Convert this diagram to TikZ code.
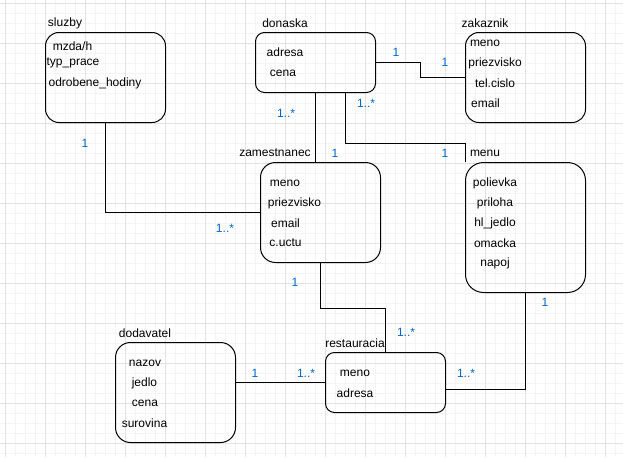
\documentclass[tikz,border=0pt]{standalone}
\usepackage{fontspec}
\setmainfont{Liberation Sans}
\usetikzlibrary{calc}
\definecolor{lblblue}{RGB}{0,102,204}
\definecolor{gridmajor}{RGB}{226,226,226}
\definecolor{gridminor}{RGB}{244,244,244}
\tikzset{every picture/.style={line width=0.75pt}}
\tikzset{
  entity/.style={draw, anchor=north west, inner sep=0pt, minimum width=90pt, rounded corners=#1},
  enttitle/.style={inner sep=0.75pt, font=\fontsize{9pt}{11pt}\selectfont},
  field/.style={inner sep=0.75pt, font=\fontsize{9pt}{11pt}\selectfont},
  mult/.style={inner sep=0.75pt, text=lblblue, font=\fontsize{9pt}{11pt}\selectfont}
}

\begin{document}
\begin{tikzpicture}[x=0.75pt,y=0.75pt,yscale=-1,xscale=1]
\useasboundingbox (0,0) rectangle (623,457);

%Grid
\foreach \x in {5,15,...,615} \draw[gridminor] (\x,0) -- (\x,457);
\foreach \y in {3,13,...,453} \draw[gridminor] (0,\y) -- (623,\y);
\foreach \x in {5,45,...,605} \draw[gridmajor] (\x,0) -- (\x,457);
\foreach \y in {3,43,...,443} \draw[gridmajor] (0,\y) -- (623,\y);

%Shape: Rounded Rect
\node [entity=10.1pt, minimum height=67.5pt] (sluzby) at (45,32) {};
\node [entity=6.75pt, minimum height=45pt] (donaska) at (255,32) {};
\node [entity=10.1pt, minimum height=67.5pt] (zakaznik) at (465,32) {};
\node [entity=11.25pt, minimum height=75pt] (zamestnanec) at (260,162) {};
\node [entity=13.5pt, minimum height=97.5pt] (menu) at (465,162) {};
\node [entity=11.25pt, minimum height=75pt] (dodavatel) at (115,342) {};
\node [entity=6.75pt, minimum height=45pt] (restauracia) at (325,352) {};

%Connectors
\draw (sluzby.south) |- (zamestnanec.west);
\draw (donaska.south) -- (donaska.south |- zamestnanec.north);
\draw (donaska.east) -- ($(donaska.east)!0.5!(donaska.east -| zakaznik.west)$) |- (zakaznik.west);
\draw ($(donaska.south west)!0.75!(donaska.south east)$) -- ++(0,50) -| (menu.north west);
\draw (zamestnanec.south) -- ++(0,45) -| (restauracia.north);
\draw (menu.south) |- ($(restauracia.east)+(0,7)$);
\draw (dodavatel.east |- restauracia.west) -- (restauracia.west);

% Text Node
\node [enttitle] (tsluzby) at (65,23) {sluzby};
\node [enttitle] (tdonaska) at (285,23) {donaska};
\node [enttitle] (tzakaznik) at (485,23) {zakaznik};
\node [enttitle] (tzamestnanec) at (275,153) {zamestnanec};
\node [enttitle] (tmenu) at (485,153) {menu};
\node [enttitle] (tdodavatel) at (145,333) {dodavatel};
\node [enttitle] (trestauracia) at (355,343) {restauracia};

% Text Node
\node [field] (s1) at (72.5,46) {mzda/h};
\node [field] (s2) at (73,63) {typ\_prace};
\node [field] (s3) at (95,83) {odrobene\_hodiny};
% Text Node
\node [field] (d1) at (285,52) {adresa};
\node [field] (d2) at (283,73) {cena};
% Text Node
\node [field] (z1) at (485,43) {meno};
\node [field] (z2) at (495,63) {priezvisko};
\node [field] (z3) at (495,83) {tel.cislo};
\node [field] (z4) at (485.5,103) {email};
% Text Node
\node [field] (m1) at (495,183) {polievka};
\node [field] (m2) at (495,203) {priloha};
\node [field] (m3) at (495,223) {hl\_jedlo};
\node [field] (m4) at (495,243) {omacka};
\node [field] (m5) at (495,263) {napoj};
% Text Node
\node [field] (e1) at (285,183) {meno};
\node [field] (e2) at (294.5,203) {priezvisko};
\node [field] (e3) at (285.5,223) {email};
\node [field] (e4) at (285.5,243) {c.uctu};
% Text Node
\node [field] (r1) at (355,373) {meno};
\node [field] (r2) at (355,393) {adresa};
% Text Node
\node [field] (v1) at (145,363) {nazov};
\node [field] (v2) at (144.5,383) {jedlo};
\node [field] (v3) at (145,403) {cena};
\node [field] (v4) at (144.5,423) {surovina};

% Multiplicities
\node [mult] (c1) at (85,143) {1};
\node [mult] (c2) at (225,228) {1..*};
\node [mult] (c3) at (286,113) {1..*};
\node [mult] (c4) at (335,153) {1};
\node [mult] (c5) at (396,52) {1};
\node [mult] (c6) at (445,62) {1};
\node [mult] (c7) at (366,103) {1..*};
\node [mult] (c8) at (445,153) {1};
\node [mult] (c9) at (295,282) {1};
\node [mult] (c10) at (406,332) {1..*};
\node [mult] (c11) at (545,302) {1};
\node [mult] (c12) at (466,373) {1..*};
\node [mult] (c13) at (255,373) {1};
\node [mult] (c14) at (306,373) {1..*};

\end{tikzpicture}
\end{document}
